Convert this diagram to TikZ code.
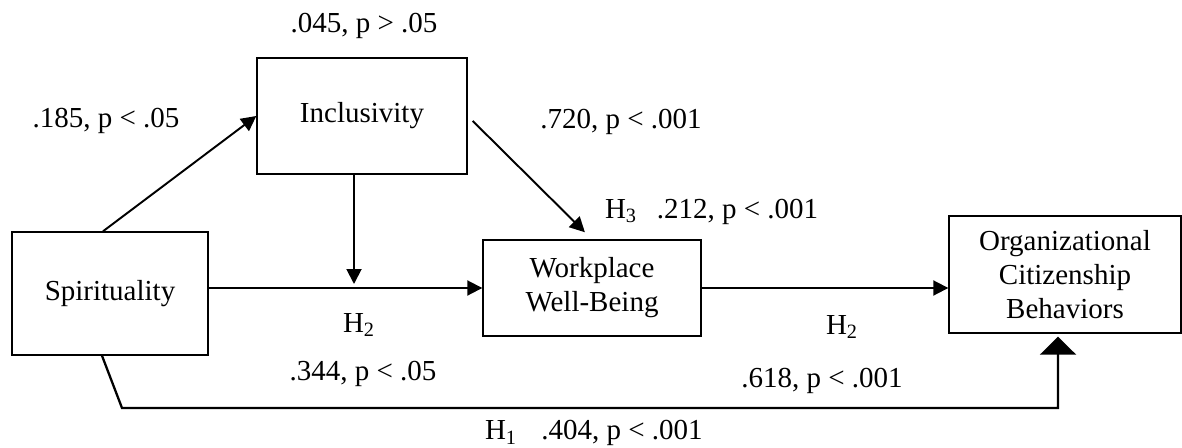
\documentclass[tikz,border=0pt]{standalone}
\usepackage{fontspec}
\setmainfont{Liberation Serif}
\usepackage{tikz}
\usetikzlibrary{calc}
\usetikzlibrary{arrows.meta}
\tikzset{
	varbox/.style={draw,line width=0.8pt,align=center,inner sep=0pt,font=\fontsize{16.5}{19.3}\selectfont},
	coef/.style={inner sep=0pt,anchor=base,font=\fontsize{16.5}{19.3}\selectfont},
	link/.style={line width=1.1pt,-{Triangle[length=0.3cm,width=0.3cm]}}
	}

\begin{document}
\begin{tikzpicture}
	\useasboundingbox (0,0) rectangle (23.64,8.94);
	\node[varbox,minimum width=3.92cm,minimum height=2.46cm] (spirit) at (2.2,3.07) {Spirituality};
	\node[varbox,minimum width=4.2cm,minimum height=2.32cm] (incl) at (7.24,6.62) {Inclusivity};
	\node[varbox,minimum width=4.36cm,minimum height=1.92cm] (wwb) at (11.84,3.18) {Workplace\\Well-Being};
	\node[varbox,minimum width=4.64cm,minimum height=2.34cm] (ocb) at (21.3,3.45) {Organizational\\Citizenship\\Behaviors};
	\coordinate (join) at (7.08,3.18);
	\coordinate (h1bend) at (2.44,0.78);
	\draw[link] ([xshift=-0.14cm]spirit.north) -- (incl.west);
	\draw[link,shorten <=0.14cm,shorten >=0.2cm] (incl.east) -- (wwb.north);
	\draw[link] (incl.south -| join) -- ([yshift=0.08cm]join);
	\draw[link] (spirit.east |- wwb.west) -- (wwb.west);
	\draw[link] (wwb.east) -- (wwb.east -| ocb.west);
	\draw[line width=1.3pt,-{Triangle[length=0.36cm,width=0.72cm]}] ([xshift=-0.16cm]spirit.south) -- (h1bend) -| ([xshift=-0.14cm,yshift=-0.06cm]ocb.south);
	\node[coef] (c045) at (7.28,8.28) {.045, p > .05};
	\node[coef] (c185) at (2.12,6.4) {.185, p < .05};
	\node[coef] (c720) at (12.42,6.38) {.720, p < .001};
	\node[coef] (h3) at (12.42,4.58) {H\textsubscript{3}};
	\node[coef] (c212) at (14.75,4.58) {.212, p < .001};
	\node[coef] (h2a) at (7.18,2.3) {H\textsubscript{2}};
	\node[coef] (c344) at (7.26,1.34) {.344, p < .05};
	\node[coef] (h2b) at (16.84,2.26) {H\textsubscript{2}};
	\node[coef] (c618) at (16.44,1.2) {.618, p < .001};
	\node[coef] (h1) at (10.02,0.15) {H\textsubscript{1}};
	\node[coef] (c404) at (12.44,0.15) {.404, p < .001};
\end{tikzpicture}
\end{document}
